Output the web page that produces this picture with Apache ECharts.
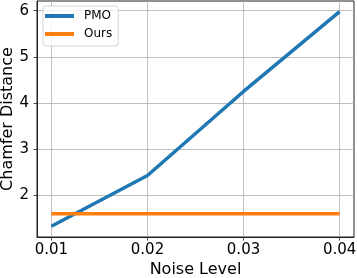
<!DOCTYPE html>
<html>
<head>
<meta charset="utf-8">
<script src="https://cdn.jsdelivr.net/npm/echarts@6/dist/echarts.min.js"></script>
<style>
html,body{margin:0;padding:0;background:#fff;}
#chart{width:357px;height:278px;}
</style>
</head>
<body>
<div id="chart"></div>
<script>
const noiseLevels = [0.01, 0.02, 0.03, 0.04];
const pmoValues = [1.33, 2.43, 4.25, 5.98];
const oursValues = [1.6, 1.6, 1.6, 1.6];
const xTicks = [0.01, 0.02, 0.03, 0.04];
const yTicks = [2, 3, 4, 5, 6];

const FONT = 'DejaVu Sans';
const chart = echarts.init(document.getElementById('chart'), null, {renderer: 'canvas'});
chart.setOption({
  animation: false,
  backgroundColor: '#fff',
  textStyle: {fontFamily: FONT},
  grid: {left: 37, right: 3, top: 1, bottom: 41, containLabel: false, outerBoundsMode: 'none',
    show: true, borderColor: '#222', borderWidth: 1, backgroundColor: 'transparent'},
  legend: {
    left: 43, top: 6, orient: 'vertical',
    data: ['PMO', 'Ours'],
    itemWidth: 29, itemHeight: 4, itemGap: 4,
    icon: 'rect',
    padding: [3, 6, 5, 2],
    backgroundColor: 'rgba(255,255,255,0.8)',
    borderColor: '#d5d5d5', borderWidth: 1, borderRadius: 3,
    textStyle: {fontFamily: FONT, fontSize: 12, color: '#000', lineHeight: 14, padding: [0, 0, 0, 5]}
  },
  xAxis: {
    type: 'value', min: 0.0085, max: 0.0415,
    name: 'Noise Level', nameLocation: 'middle', nameGap: 25, nameMoveOverlap: false,
    nameTextStyle: {fontFamily: FONT, fontSize: 16, color: '#000'},
    axisLine: {show: true, lineStyle: {color: '#222', width: 1}},
    axisTick: {show: true, inside: false, length: 3.5, customValues: xTicks, lineStyle: {color: '#222', width: 0.8}},
    axisLabel: {customValues: xTicks, margin: 6, fontFamily: FONT, fontSize: 15, color: '#000',
      formatter: v => v.toFixed(2)},
    splitLine: {show: true, lineStyle: {color: '#b0b0b0', width: 0.8}}
  },
  yAxis: {
    type: 'value', min: 1.097, max: 6.21,
    name: 'Chamfer Distance', nameLocation: 'middle', nameGap: 21, nameMoveOverlap: false,
    nameTextStyle: {fontFamily: FONT, fontSize: 16, color: '#000'},
    axisLine: {show: true, lineStyle: {color: '#222', width: 1}},
    axisTick: {show: true, inside: false, length: 3.5, customValues: yTicks, lineStyle: {color: '#222', width: 0.8}},
    axisLabel: {customValues: yTicks, margin: 8, fontFamily: FONT, fontSize: 15, color: '#000'},
    splitLine: {show: true, lineStyle: {color: '#b0b0b0', width: 0.8}}
  },
  series: [
    {name: 'PMO', type: 'line', data: noiseLevels.map((x, i) => [x, pmoValues[i]]),
      showSymbol: false, symbol: 'none', lineStyle: {color: '#1f77b4', width: 3.5}, itemStyle: {color: '#1f77b4'}},
    {name: 'Ours', type: 'line', data: noiseLevels.map((x, i) => [x, oursValues[i]]),
      showSymbol: false, symbol: 'none', lineStyle: {color: '#ff7f0e', width: 3.5}, itemStyle: {color: '#ff7f0e'}}
  ]
});
</script>
</body>
</html>
